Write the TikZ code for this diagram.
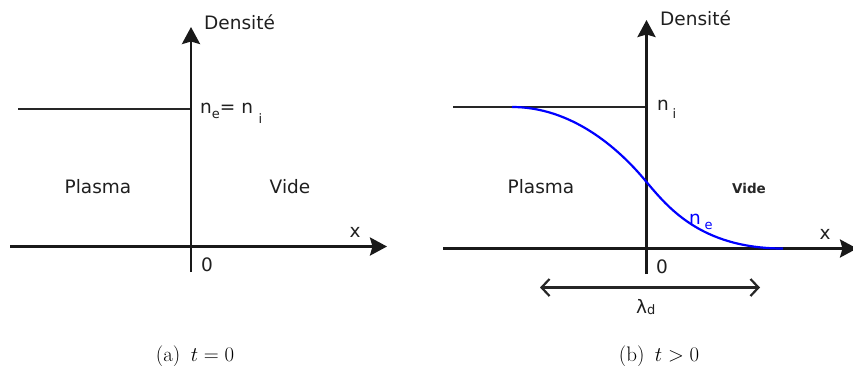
\documentclass[tikz,border=0pt]{standalone}
\usepackage{fontspec}
\newfontfamily\djs{DejaVu Sans}
\usetikzlibrary{arrows.meta}
\newcommand\mysub[2]{\raisebox{#1}{\fontsize{13}{13}\selectfont #2}}
\begin{document}
\begin{tikzpicture}[x=1pt,y=-1pt,
  lbl/.style={font=\djs\fontsize{18.5}{20}\selectfont, inner sep=0pt, text=black!88},
  smalltxt/.style={font=\djs\bfseries\fontsize{13.5}{15}\selectfont, inner sep=0pt, text=black!85},
  captxt/.style={font=\fontsize{21}{24}\selectfont, inner sep=0pt, anchor=base},
  axisline/.style={line width=2.8pt, black!90, -{Stealth[length=17pt,width=18pt,inset=2.5pt]}},
  levelline/.style={line width=2.4pt, black!85},
  densline/.style={line width=2.2pt, blue},
  spanarrow/.style={line width=2.2pt, black!85, {Straight Barb[length=8pt,width=17pt,line width=2.2pt]}-{Straight Barb[length=8pt,width=17pt,line width=2.2pt]}}]
\useasboundingbox (0,0) rectangle (853,365);
% ---------- (a) ----------
\coordinate (aYb) at (191,272);
\coordinate (aYt) at (191,27);
\coordinate (aXl) at (10,246.5);
\coordinate (aXr) at (387,246.5);
\coordinate (aLl) at (18,109);
\coordinate (aLr) at (191,109);
\draw[levelline] (aLl) -- (aLr);
\draw[axisline] (aXl) -- (aXr);
\draw[axisline] (aYb) -- (aYt);
\node[lbl, anchor=west] (aDen) at (204,22) {Densité};
\node[lbl, anchor=base west] (aNe) at (200,113) {n\mysub{-5pt}{e}= n\hspace{0.3em}\mysub{-10pt}{i}};
\node[lbl] (aPl) at (98,187) {Plasma};
\node[lbl] (aVi) at (290,187) {Vide};
\node[lbl] (aX) at (355,232) {x};
\node[lbl] (aO) at (207,265) {0};
\node[captxt] (aCap) at (195,361) {(a)\enspace$t=0$};
% ---------- (b) ----------
\coordinate (bYb) at (646.5,274);
\coordinate (bYt) at (646.5,20);
\coordinate (bXl) at (443,248.5);
\coordinate (bXr) at (857,248.5);
\coordinate (bLl) at (453,107);
\coordinate (bLr) at (646.5,107);
\coordinate (bC0) at (512,107);
\coordinate (bC1) at (646.5,182);
\coordinate (bC2) at (783,248.5);
\coordinate (bSl) at (540,287.5);
\coordinate (bSr) at (760,287.5);
\draw[levelline] (bLl) -- (bLr);
\draw[axisline] (bXl) -- (bXr);
\draw[axisline] (bYb) -- (bYt);
\draw[densline] (bC0) .. controls (570,107) and (617,146) .. (bC1)
                  .. controls (667,206) and (700,248.5) .. (bC2);
\draw[spanarrow] (bSl) -- (bSr);
\node[lbl, anchor=west] (bDen) at (660,18) {Densité};
\node[lbl, anchor=base west] (bNi) at (657,110) {n\hspace{0.2em}\mysub{-8pt}{i}};
\node[lbl, anchor=base west, text=blue] (bNe) at (689,224) {n\hspace{0.2em}\mysub{-5pt}{e}};
\node[lbl] (bPl) at (541,187) {Plasma};
\node[smalltxt] (bVi) at (749,188) {Vide};
\node[lbl] (bX) at (825,234) {x};
\node[lbl] (bO) at (662,267) {0};
\node[lbl, anchor=base west] (bLd) at (636,313) {λ\mysub{-1pt}{d}};
\node[captxt] (bCap) at (659,361) {(b)\enspace$t>0$};
\end{tikzpicture}
\end{document}
